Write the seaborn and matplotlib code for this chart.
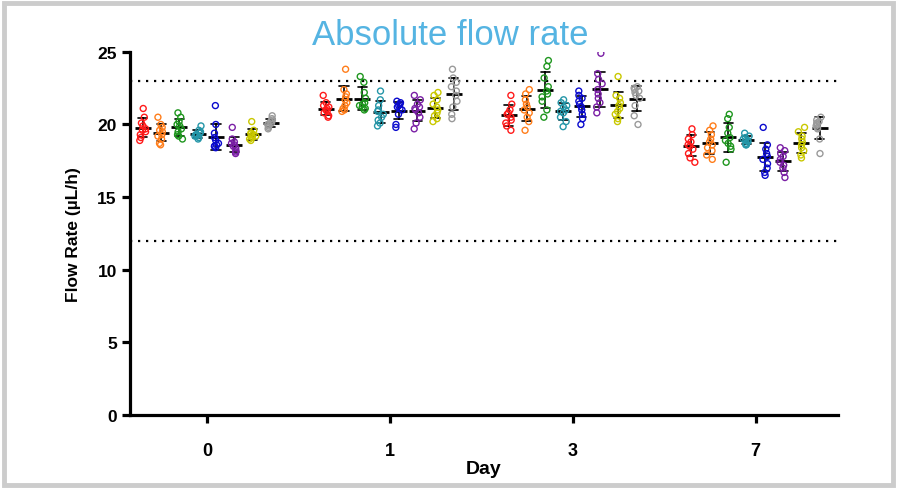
import numpy as np
import pandas as pd
import seaborn as sns
import matplotlib.pyplot as plt
from matplotlib.patches import Rectangle

days = ["0", "1", "3", "7"]
groups = ["A", "B", "C", "D", "E", "F", "G", "H"]
colors = ["#FF1A1A", "#FF7D1A", "#1E961E", "#2496A8",
          "#0A0ACD", "#7A1FA5", "#C9C800", "#9A9A9A"]

# flow rate readings (uL/h), one list per group, per day
day0 = [
    [21.1, 20.5, 20.1, 19.9, 19.7, 19.5, 19.3, 19.1, 18.9, 19.6],
    [20.5, 20.0, 19.8, 19.6, 19.5, 19.3, 19.2, 19.0, 18.7, 18.6],
    [20.8, 20.5, 20.2, 20.0, 19.9, 19.7, 19.5, 19.3, 19.2, 19.0],
    [19.9, 19.6, 19.5, 19.4, 19.3, 19.2, 19.1, 19.0, 19.2, 19.3],
    [21.3, 20.0, 19.4, 19.1, 18.9, 18.7, 18.6, 18.5, 18.5, 18.4],
    [19.8, 19.0, 18.8, 18.7, 18.6, 18.5, 18.4, 18.2, 18.1, 18.0],
    [20.2, 19.6, 19.4, 19.3, 19.2, 19.1, 19.0, 18.9, 19.2, 19.4],
    [20.6, 20.4, 20.3, 20.2, 20.1, 20.0, 20.0, 19.9, 19.8, 19.7],
]
day1 = [
    [22.0, 21.5, 21.3, 21.2, 21.1, 21.0, 20.9, 20.8, 20.6, 20.5],
    [23.8, 22.4, 22.1, 21.9, 21.7, 21.5, 21.3, 21.1, 21.0, 20.9],
    [23.3, 22.9, 22.2, 21.8, 21.5, 21.4, 21.3, 21.2, 21.1, 21.0],
    [22.3, 21.7, 21.3, 21.0, 20.9, 20.7, 20.5, 20.3, 20.1, 19.9],
    [21.6, 21.5, 21.4, 21.3, 21.2, 21.1, 21.0, 20.7, 20.0, 19.8],
    [22.0, 21.7, 21.4, 21.2, 21.1, 21.0, 20.8, 20.5, 20.1, 19.7],
    [22.2, 22.0, 21.7, 21.4, 21.2, 21.0, 20.8, 20.6, 20.4, 20.2],
    [23.8, 23.2, 22.9, 22.6, 22.3, 22.0, 21.6, 21.2, 20.7, 20.4],
]
day3 = [
    [22.0, 21.4, 21.0, 20.8, 20.7, 20.5, 20.3, 20.1, 19.9, 19.6],
    [22.4, 22.1, 21.7, 21.4, 21.2, 21.0, 20.8, 20.5, 20.2, 19.6],
    [24.4, 24.0, 23.2, 22.6, 22.3, 22.1, 21.9, 21.6, 21.0, 20.5],
    [21.7, 21.5, 21.3, 21.2, 21.0, 20.9, 20.8, 20.5, 20.2, 19.85],
    [22.3, 22.0, 21.8, 21.6, 21.4, 21.2, 21.0, 20.7, 20.4, 20.0],
    [24.9, 23.5, 23.1, 22.8, 22.4, 22.1, 21.8, 21.5, 21.2, 20.8],
    [23.3, 22.0, 21.8, 21.5, 21.3, 21.1, 20.9, 20.7, 20.4, 20.2],
    [22.6, 22.5, 22.4, 22.3, 22.2, 22.0, 21.8, 21.3, 20.6, 20.0],
]
day7 = [
    [19.7, 19.3, 19.0, 18.8, 18.6, 18.5, 18.3, 18.0, 17.7, 17.4],
    [19.9, 19.6, 19.3, 19.0, 18.8, 18.6, 18.4, 18.2, 17.9, 17.6],
    [20.7, 20.4, 19.8, 19.4, 19.1, 18.9, 18.7, 18.5, 18.3, 17.4],
    [19.4, 19.2, 19.1, 19.0, 18.9, 18.9, 18.8, 18.7, 18.6, 18.6],
    [19.8, 18.6, 18.3, 18.0, 17.8, 17.6, 17.3, 17.0, 16.7, 16.5],
    [18.4, 18.2, 18.0, 17.8, 17.6, 17.4, 17.2, 17.0, 16.7, 16.35],
    [19.8, 19.5, 19.2, 19.0, 18.8, 18.6, 18.4, 18.2, 17.9, 17.7],
    [20.5, 20.3, 20.2, 20.1, 20.0, 19.9, 19.8, 19.7, 19.0, 18.0],
]
upper_limit = 23
lower_limit = 12

# long format table
rows = []
for day, block in zip(days, [day0, day1, day3, day7]):
    for g, vals in zip(groups, block):
        for v in vals:
            rows.append({"day": day, "group": g, "rate": v})
df = pd.DataFrame(rows)

sns.set_style("ticks", {"axes.edgecolor": "black", "xtick.color": "black",
                        "ytick.color": "black", "text.color": "black",
                        "axes.labelcolor": "black"})
plt.rcParams["font.family"] = ["Liberation Sans", "DejaVu Sans"]

fig = plt.figure(figsize=(8.97, 4.89), dpi=100)
ax = fig.add_axes([0.145, 0.149, 0.789, 0.743])

np.random.seed(3)  # jitter only
sns.stripplot(data=df, x="day", y="rate", hue="group", order=days,
              hue_order=groups, palette=colors, dodge=True, jitter=0.15,
              size=4.3, legend=False, ax=ax)
# hollow markers
for coll in ax.collections:
    fc = coll.get_facecolors()
    coll.set_edgecolors(fc)
    coll.set_facecolors("none")
    coll.set_linewidth(1.0)

sns.pointplot(data=df, x="day", y="rate", hue="group", order=days,
              hue_order=groups, palette=["black"] * 8, dodge=0.7,
              errorbar="sd", linestyle="none", marker="_", markersize=11,
              markeredgewidth=2, capsize=0.05, err_kws={"linewidth": 1.2},
              legend=False, ax=ax)

ax.axhline(upper_limit, color="black", lw=1.6, ls=(0, (1, 2.6)))
ax.axhline(lower_limit, color="black", lw=1.6, ls=(0, (1, 2.6)))

ax.set_ylim(0, 25)
ax.set_xlim(-0.42, 3.45)
ax.set_yticks([0, 5, 10, 15, 20, 25])
sns.despine(ax=ax)
for s in ["left", "bottom"]:
    ax.spines[s].set_linewidth(2.3)
ax.tick_params(width=2.3, length=6, labelsize=12.5)
for lab in ax.get_xticklabels() + ax.get_yticklabels():
    lab.set_fontweight("bold")
ax.tick_params(axis="x", labelsize=13, pad=13)

ax.set_xlabel("Day", fontsize=14, fontweight="bold", labelpad=1)
ax.set_ylabel("Flow Rate (µL/h)", fontsize=12.5, fontweight="bold", labelpad=12)

fig.text(0.502, 0.928, "Absolute flow rate", ha="center", va="center",
         fontsize=25, color="#55B4E2")

fig.patches.append(Rectangle((0.005, 0.006), 0.99, 0.986, transform=fig.transFigure,
                             fill=False, edgecolor="#CCCCCC", linewidth=3.5))

fig.savefig("out.png", dpi=100)
